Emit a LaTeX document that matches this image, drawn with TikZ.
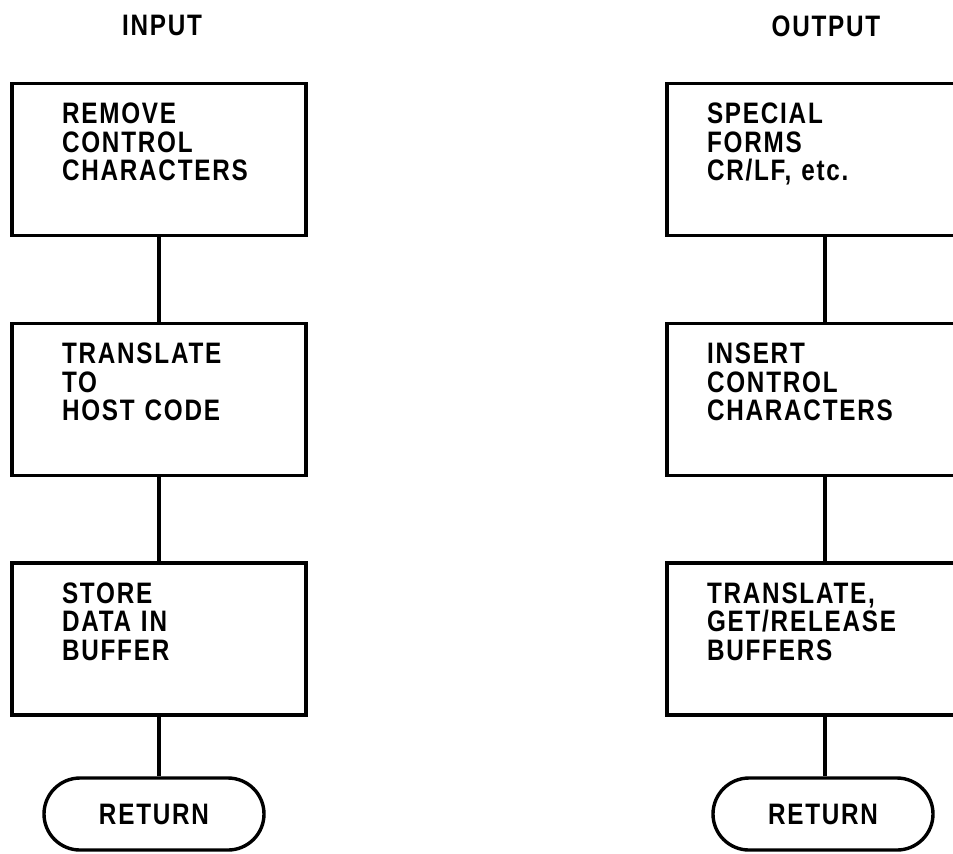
\documentclass[tikz,border=0pt]{standalone}
\usepackage{fontspec}
\setmainfont{Liberation Sans}[FakeStretch=0.82, LetterSpace=6]
\usetikzlibrary{positioning,shapes.misc}

\begin{document}
\begin{tikzpicture}[x=0.5pt, y=-0.5pt, line width=1.7pt,
  font=\fontsize{14.8}{14.25}\selectfont\bfseries,
  stage/.style={rectangle, draw, minimum height=76pt, align=left, text depth=46pt, inner sep=0pt},
  instage/.style={stage, minimum width=147pt, text width=97pt},
  outstage/.style={stage, minimum width=158pt, text width=118pt},
  term/.style={rounded rectangle, draw, minimum width=110pt, minimum height=36pt, inner sep=0pt},
  head/.style={inner sep=0pt}]
  \useasboundingbox (0,0) rectangle (953,853);
  \clip (0,0) rectangle (953,853);
  % input side
  \node[head] (hin) at (162,25.5) {INPUT};
  \node[instage] (in1) at (159,159.5) {REMOVE\\CONTROL\\CHARACTERS};
  \node[instage] (in2) at (159,399.5) {TRANSLATE\\TO\\HOST CODE};
  \node[instage] (in3) at (159,639) {STORE\\DATA IN\\BUFFER};
  \node[term] (inret) at (154,814) {RETURN};
  \draw (in1) -- (in2);
  \draw (in2) -- (in3);
  \draw (in3.south) -- (in3.south |- inret.north);
  % output side
  \node[head] (hout) at (826,26) {OUTPUT};
  \node[outstage] (out1) at (825,159.5) {SPECIAL\\FORMS\\CR/LF, etc.};
  \node[outstage] (out2) at (825,399.5) {INSERT\\CONTROL\\CHARACTERS};
  \node[outstage] (out3) at (825,639) {TRANSLATE,\\GET/RELEASE\\BUFFERS};
  \node[term] (outret) at (823,814) {RETURN};
  \draw (out1) -- (out2);
  \draw (out2) -- (out3);
  \draw (out3.south) -- (out3.south |- outret.north);
\end{tikzpicture}
\end{document}
